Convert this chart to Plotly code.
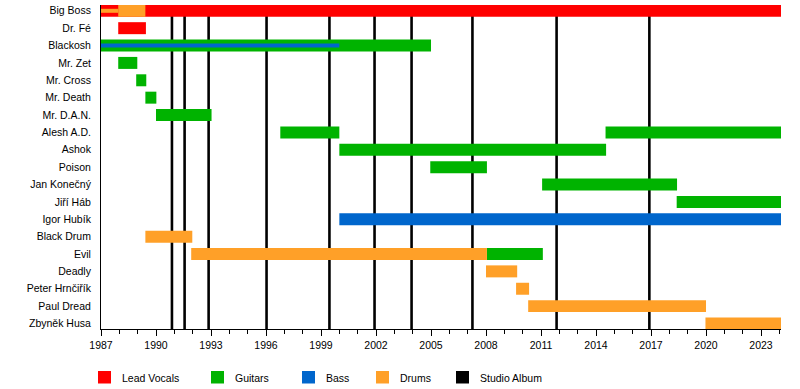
import plotly.graph_objects as go

END = 2024.09

members = ["Big Boss", "Dr. Fé", "Blackosh", "Mr. Zet", "Mr. Cross", "Mr. Death",
           "Mr. D.A.N.", "Alesh A.D.", "Ashok", "Poison", "Jan Konečný", "Jiří Háb",
           "Igor Hubík", "Black Drum", "Evil", "Deadly", "Peter Hrnčiřík",
           "Paul Dread", "Zbyněk Husa"]

# Lead vocals
vocals_members = ["Big Boss", "Dr. Fé"]
vocals_start = [1987.0, 1987.94]
vocals_end = [END, 1989.45]

# Guitars
guitars_members = ["Blackosh", "Mr. Zet", "Mr. Cross", "Mr. Death", "Mr. D.A.N.",
                   "Alesh A.D.", "Ashok", "Poison", "Evil", "Jan Konečný",
                   "Alesh A.D.", "Jiří Háb"]
guitars_start = [1987.0, 1987.94, 1988.92, 1989.42, 1990.0,
                 1996.78, 2000.0, 2004.96, 2008.05, 2011.06,
                 2014.52, 2018.4]
guitars_end = [2005.0, 1988.98, 1989.47, 1990.02, 1993.03,
               2000.0, 2014.55, 2008.05, 2011.1, 2018.42,
               END, END]

# Bass
bass_members = ["Igor Hubík"]
bass_start = [2000.0]
bass_end = [END]

# Drums
drums_members = ["Big Boss", "Black Drum", "Evil", "Deadly", "Peter Hrnčiřík",
                 "Paul Dread", "Zbyněk Husa"]
drums_start = [1987.94, 1989.42, 1991.92, 2008.0, 2009.64, 2010.3, 2019.97]
drums_end = [1989.42, 1991.98, 2008.05, 2009.7, 2010.35, 2020.0, END]

# Secondary roles (thin stripes)
thin_members = ["Big Boss", "Blackosh"]
thin_roles = ["Drums", "Bass"]
thin_start = [1987.0, 1987.0]
thin_end = [1987.94, 2000.0]

# Studio albums
albums = [1990.87, 1991.56, 1992.87, 1996.03, 1999.46, 2001.92, 2003.94,
          2007.26, 2011.85, 2016.91]

legend_labels = ["Lead Vocals", "Guitars", "Bass", "Drums", "Studio Album"]
colors = {"Lead Vocals": "#FF0000", "Guitars": "#00B300", "Bass": "#0066CC",
          "Drums": "#FFA028", "Studio Album": "#000000"}

idx = {m: i for i, m in enumerate(members)}

fig = go.Figure()

def add_bars(mem, st, en, role, width):
    fig.add_trace(go.Bar(
        orientation="h",
        y=[idx[m] for m in mem],
        base=st,
        x=[e - s for s, e in zip(st, en)],
        width=width,
        marker=dict(color=colors[role], line=dict(width=0)),
        showlegend=False,
        name=role,
        hovertemplate="%{base:.1f}–%{x:.1f}<extra>" + role + "</extra>",
    ))

add_bars(vocals_members, vocals_start, vocals_end, "Lead Vocals", 0.69)
add_bars(guitars_members, guitars_start, guitars_end, "Guitars", 0.69)
add_bars(bass_members, bass_start, bass_end, "Bass", 0.69)
add_bars(drums_members, drums_start, drums_end, "Drums", 0.69)
for m, r, s, e in zip(thin_members, thin_roles, thin_start, thin_end):
    add_bars([m], [s], [e], r, 0.23)

Y_BOTTOM = 18.317
Y_TOP = -0.334

for a in albums:
    fig.add_shape(type="line", xref="x", yref="y", x0=a, x1=a, y0=0, y1=Y_BOTTOM,
                  line=dict(color="black", width=2.6), layer="below")

# Legend drawn manually (pixel -> paper)
L, R, T, B = 101, 19, 5, 60
PW, PH = 800 - L - R, 389 - T - B

def px(x):
    return (x - L) / PW

def py(y):
    return (389 - B - y) / PH

sq_x = [98, 211, 302, 376, 456]
tx_x = [120, 233, 324, 398, 478]
for lab, sx, tx in zip(legend_labels, sq_x, tx_x):
    fig.add_shape(type="rect", xref="paper", yref="paper",
                  x0=px(sx), x1=px(sx + 13), y0=py(383.5), y1=py(371),
                  fillcolor=colors[lab], line=dict(width=0))
    fig.add_annotation(xref="paper", yref="paper", x=px(tx), y=py(377.5),
                       text=lab, showarrow=False, xanchor="left", yanchor="middle",
                       font=dict(size=10.5, color="black"))

fig.update_layout(
    width=800, height=389,
    margin=dict(l=L, r=R, t=T, b=B),
    barmode="overlay",
    plot_bgcolor="white", paper_bgcolor="white",
    font=dict(family="Liberation Sans, Arial, sans-serif", size=10.5, color="black"),
    showlegend=False,
)
fig.update_xaxes(
    range=[1987, END], tick0=1987, dtick=3,
    showline=True, linecolor="black", linewidth=1,
    ticks="outside", ticklen=6, tickcolor="black", tickwidth=1,
    minor=dict(dtick=1, ticks="outside", ticklen=4, tickcolor="black", tickwidth=1),
    showgrid=False, zeroline=False, fixedrange=True,
)
fig.update_yaxes(
    range=[Y_BOTTOM, Y_TOP],
    tickvals=list(range(len(members))), ticktext=members,
    showline=True, linecolor="black", linewidth=1,
    ticks="outside", ticklen=7, tickcolor="rgba(0,0,0,0)",
    showgrid=False, zeroline=False, fixedrange=True,
)

fig.write_html("out.html", config={"displayModeBar": False},
               post_script="document.body.style.margin='0';document.body.style.overflow='hidden';")
